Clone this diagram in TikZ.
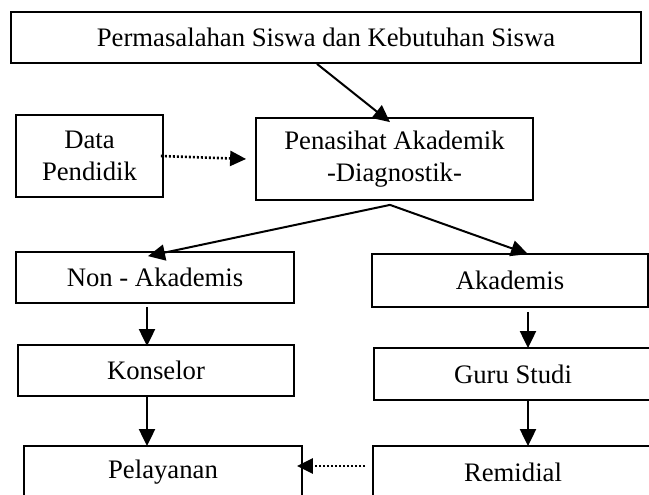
\documentclass[tikz,border=0pt]{standalone}
\usepackage{fontspec}
\setmainfont{Liberation Serif}
\usetikzlibrary{arrows.meta}
\begin{document}
\begin{tikzpicture}[x=1pt,y=-1pt,
  box/.style={draw=black,line width=1.8pt,inner sep=0pt,anchor=center,align=center,
    font=\fontsize{26.7}{32}\selectfont},
  arr/.style={line width=2pt,-{Triangle[length=17pt,width=16pt]}},
  dotarr/.style={line width=2.6pt,dash pattern=on 2pt off 2pt,-{Triangle[length=16pt,width=15pt]}}]
\clip (0,0) rectangle (649,495);
\fill[white] (0,0) rectangle (649,495);
\node[box,minimum width=630pt,minimum height=51pt] (top) at (326,37.5) {Permasalahan Siswa dan Kebutuhan Siswa};
\node[box,minimum width=147pt,minimum height=82pt] (dp) at (89.5,156) {Data\\Pendidik};
\node[box,minimum width=277pt,minimum height=82pt] (pen) at (394.5,159) {Penasihat Akademik\\-Diagnostik-};
\node[box,minimum width=278pt,minimum height=51pt] (nonak) at (155,277.5) {Non - Akademis};
\node[box,minimum width=276pt,minimum height=51pt] (kon) at (156,370.5) {Konselor};
\node[box,minimum width=278pt,minimum height=52pt] (pel) at (163,472) {Pelayanan};
\node[box,minimum width=276pt,minimum height=53pt] (ak) at (510,280.5) {Akademis};
\node[box,minimum width=278pt,minimum height=52pt] (guru) at (513,374) {Guru Studi};
\node[box,minimum width=280pt,minimum height=52pt] (rem) at (513,472) {Remidial};
% connectors
\draw[arr] ([xshift=-9pt]top.south) -- ([xshift=-4.5pt,yshift=-5pt]pen.north);
\draw[dotarr] ([xshift=-3pt]dp.east) -- ([xshift=-9pt,yshift=-3pt]pen.west |- dp.east);
\draw[arr] ([xshift=-4.5pt,yshift=-4pt]pen.south) -- ([xshift=-7pt,yshift=-5pt]nonak.north);
\draw[arr] ([xshift=-4.5pt,yshift=-4pt]pen.south) -- ([xshift=18pt,yshift=-1pt]ak.north);
\draw[arr] ([xshift=-8pt,yshift=-3pt]nonak.south) -- ([xshift=-9pt,yshift=-2pt]kon.north);
\draw[arr] ([xshift=-9pt]kon.south) -- ([xshift=-16pt,yshift=-1pt]pel.north);
\draw[arr] ([xshift=18pt,yshift=-4pt]ak.south) -- ([xshift=15pt,yshift=-1pt]guru.north);
\draw[arr] ([xshift=15pt]guru.south) -- ([xshift=15pt,yshift=-1pt]rem.north);
\draw[dotarr] ([xshift=-7pt,yshift=6pt]rem.west) -- ([xshift=-6pt,yshift=6pt]pel.east);
\end{tikzpicture}
\end{document}
